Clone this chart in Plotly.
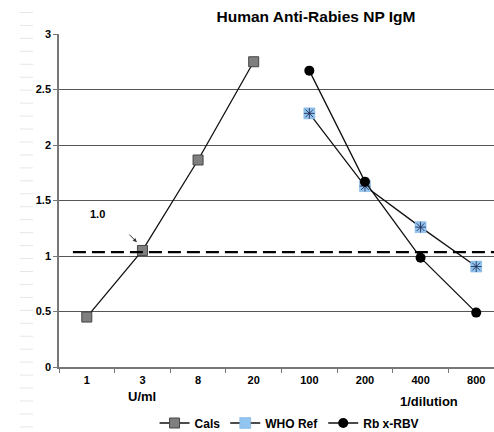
import plotly.graph_objects as go

categories = ["1", "3", "8", "20", "100", "200", "400", "800"]
cals_x = ["1", "3", "8", "20"]
cals_y = [0.45, 1.05, 1.865, 2.75]
who_x = ["100", "200", "400", "800"]
who_y = [2.285, 1.63, 1.26, 0.905]
rb_x = ["100", "200", "400", "800"]
rb_y = [2.67, 1.67, 0.985, 0.49]
y_ticks = [0, 0.5, 1, 1.5, 2, 2.5, 3]
y_tick_text = ["0", "0.5", "1", "1.5", "2", "2.5", "3"]
cutoff = 1.035
cutoff_label = "1.0"

W, H = 494, 432
L, R, T, B = 59, 0, 34, 65
pw, ph = W - L - R, H - T - B

def px2paper(px, py):
    return (px - L) / pw, (H - B - py) / ph

FONT = "Liberation Sans, Arial, sans-serif"

fig = go.Figure()
fig.add_trace(go.Scatter(
    x=cals_x, y=cals_y, name="<b>Cals</b>", mode="lines+markers",
    line=dict(color="#111111", width=1.3),
    marker=dict(symbol="square", size=10, color="#7f7f7f",
                line=dict(color="#444444", width=1)),
))
fig.add_trace(go.Scatter(
    x=who_x, y=who_y, name="<b>WHO Ref</b>", mode="lines+markers",
    line=dict(color="#111111", width=1.3),
    marker=dict(symbol="square", size=11, color="#92c4f0",
                line=dict(color="#78aede", width=0.5)),
))
fig.add_trace(go.Scatter(
    x=who_x, y=who_y, name="WHO Ref", mode="markers", showlegend=False,
    marker=dict(symbol="asterisk-open", size=9, color="#22315a",
                line=dict(color="#22315a", width=0.9)),
    hoverinfo="skip",
))
fig.add_trace(go.Scatter(
    x=rb_x, y=rb_y, name="<b>Rb x-RBV</b>", mode="lines+markers",
    line=dict(color="#111111", width=1.3),
    marker=dict(symbol="circle", size=10, color="#000000"),
))

shapes = []
# cutoff dashed line
shapes.append(dict(type="line", xref="x", yref="y", x0=-0.25, x1=7.6,
                   y0=cutoff, y1=cutoff,
                   line=dict(color="#000000", width=2.3, dash="13px,6px")))
# faint page marks along the left edge
py = 12.5
while py < H:
    x0, y0 = px2paper(20, py)
    x1, _ = px2paper(33, py)
    shapes.append(dict(type="line", xref="paper", yref="paper",
                       x0=x0, x1=x1, y0=y0, y1=y0,
                       line=dict(color="#e6e6e6", width=1)))
    py += 12.95

ux, uy = px2paper(142, 396)
dx, dy = px2paper(429, 401)

annotations = [
    dict(text="<b>" + cutoff_label + "</b>", x=0.2, y=1.38, xref="x", yref="y",
         showarrow=False, font=dict(size=11, color="#000", family=FONT)),
    dict(text="", x=0.9, y=1.125, xref="x", yref="y", showarrow=True,
         ax=-9, ay=-9, arrowhead=2, arrowsize=0.8, arrowwidth=1, arrowcolor="#333"),
    dict(text="<b>U/ml</b>", x=ux, y=uy, xref="paper", yref="paper",
         xanchor="center", yanchor="middle",
         showarrow=False, font=dict(size=13, color="#000", family=FONT)),
    dict(text="<b>1/dilution</b>", x=dx, y=dy, xref="paper", yref="paper",
         xanchor="center", yanchor="middle",
         showarrow=False, font=dict(size=13, color="#000", family=FONT)),
]

fig.update_layout(
    width=W, height=H,
    margin=dict(l=L, r=R, t=T, b=B, pad=0, autoexpand=False),
    paper_bgcolor="white", plot_bgcolor="white",
    font=dict(family=FONT, size=11, color="#000"),
    title=dict(text="<b>Human Anti-Rabies NP IgM</b>", x=316 / W, y=1 - 17 / H,
               xref="container", yref="container", xanchor="center", yanchor="middle",
               font=dict(size=15.5, color="#000", family=FONT), automargin=False),
    showlegend=True,
    legend=dict(orientation="h", x=0.53, xanchor="center", y=px2paper(0, 423)[1],
                yanchor="middle", font=dict(size=12, color="#000", family=FONT),
                itemwidth=30, tracegroupgap=0, bgcolor="rgba(0,0,0,0)"),
    shapes=shapes,
    annotations=annotations,
)

fig.update_xaxes(
    type="category", categoryorder="array", categoryarray=categories,
    range=[-0.5, 7.32], tickson="boundaries", ticks="outside", ticklen=4,
    tickcolor="#777", showline=True, linecolor="#777", linewidth=1.5,
    showgrid=False, zeroline=False, automargin=False, ticklabelstandoff=2,
    tickfont=dict(size=11, family=FONT, color="#000"),
    tickvals=categories, ticktext=["<b>" + c + "</b>" for c in categories],
)
fig.update_yaxes(
    range=[0, 3], tickvals=y_ticks, ticktext=["<b>" + t + "</b>" for t in y_tick_text],
    ticks="outside", ticklen=4, tickcolor="#777", automargin=False,
    showline=True, linecolor="#777", linewidth=1.5,
    showgrid=True, gridcolor="#555", gridwidth=1, zeroline=False,
    tickfont=dict(size=11, family=FONT, color="#000"),
)

fig.write_html("out.html", config={"displayModeBar": False},
               post_script="document.body.style.margin='0';document.body.style.padding='0';")
